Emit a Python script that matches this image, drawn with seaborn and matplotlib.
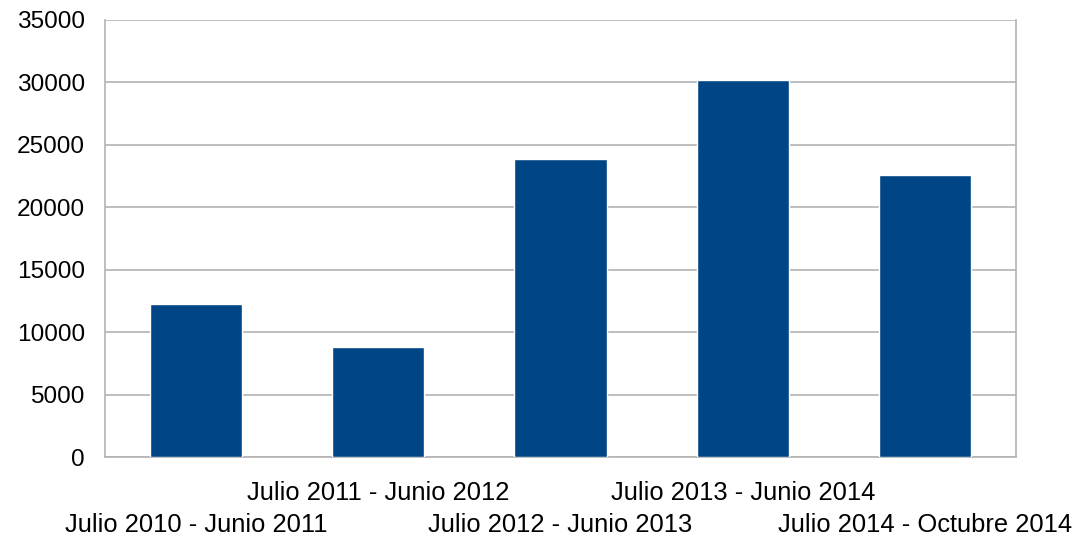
import numpy as np
import pandas as pd
import seaborn as sns
import matplotlib.pyplot as plt

# datos
periodos = ['Julio 2010 - Junio 2011', 'Julio 2011 - Junio 2012', 'Julio 2012 - Junio 2013',
            'Julio 2013 - Junio 2014', 'Julio 2014 - Octubre 2014']
valores = [12250, 8850, 23850, 30200, 22550]
yticks = [0, 5000, 10000, 15000, 20000, 25000, 30000, 35000]

df = pd.DataFrame({'Periodo': periodos, 'Valor': valores})

sns.set_style('white')
plt.rcParams['font.family'] = ['Liberation Sans', 'DejaVu Sans']
gris = '#b3b3b3'

fig = plt.figure(figsize=(10.75, 5.38), dpi=100)
ax = fig.add_axes([105/1075, 81/538, 911/1075, 437/538])

sns.barplot(data=df, x='Periodo', y='Valor', color='#004586', width=0.505,
            saturation=1, ax=ax, zorder=3)

ax.set_xlim(-0.5, len(periodos) - 0.5)
ax.set_ylim(0, 35000)
ax.set_yticks(yticks)
ax.set_yticklabels([str(v) for v in yticks])
ax.grid(axis='y', color=gris, linewidth=1.2, zorder=0)
ax.set_axisbelow(True)

# etiquetas escalonadas: fila de arriba (impares) en el eje principal
pos = np.arange(len(periodos))
ax.set_xticks(pos[1::2])
ax.set_xticklabels(periodos[1::2])
ax.set_xticks(np.arange(-0.5, len(periodos), 1), minor=True)
ax.tick_params(axis='x', which='major', length=0, pad=17, labelsize=18.4, colors='black')
ax.tick_params(axis='x', which='minor', length=7.5, width=1.2, color=gris, direction='out')
ax.tick_params(axis='y', length=7.5, width=1.2, color=gris, direction='out', pad=7,
               labelsize=17.6, labelcolor='black')
ax.set_xlabel('')
ax.set_ylabel('')

# fila de abajo (pares) en un eje secundario
sec = ax.secondary_xaxis('bottom')
sec.set_xticks(pos[0::2])
sec.set_xticklabels(periodos[0::2])
sec.tick_params(axis='x', length=0, pad=40, labelsize=18.4, colors='black')
sec.spines['bottom'].set_visible(False)

for lado in ['left', 'right', 'bottom']:
    ax.spines[lado].set_color(gris)
    ax.spines[lado].set_linewidth(1.2)
ax.spines['top'].set_visible(False)

fig.savefig('out.png', dpi=100)
